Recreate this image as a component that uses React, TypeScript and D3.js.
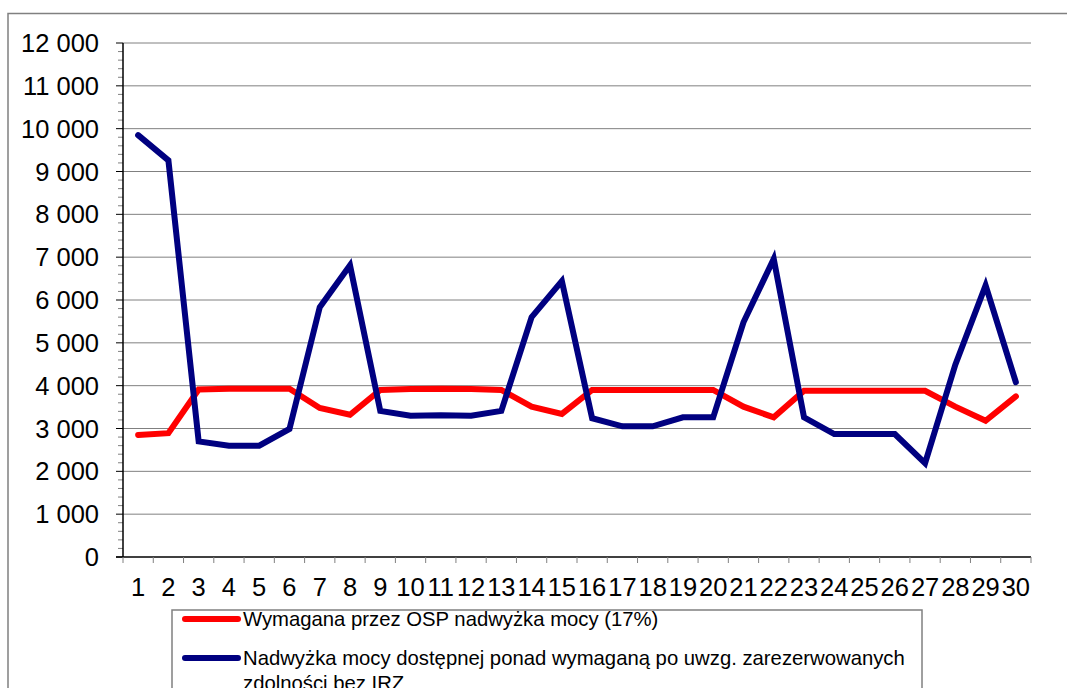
import React from "react";
import * as d3 from "d3";

const days = d3.range(1, 31).map(String);

const required = [
  2850, 2890, 3910, 3930, 3930, 3930, 3480, 3320, 3900, 3920,
  3930, 3920, 3900, 3510, 3340, 3900, 3900, 3900, 3900, 3900,
  3510, 3260, 3880, 3880, 3880, 3880, 3880, 3510, 3180, 3750,
];

const available = [
  9850, 9260, 2700, 2600, 2600, 2990, 5830, 6810, 3410, 3300,
  3310, 3300, 3410, 5600, 6440, 3240, 3050, 3050, 3260, 3260,
  5480, 6960, 3260, 2870, 2870, 2870, 2190, 4490, 6340, 4080,
];

const yTicks = d3.range(0, 12001, 1000);
const minorTicks = d3.range(0, 12001, 200).filter((v) => v % 1000 !== 0);

const seriesNames = [
  ["Wymagana przez OSP nadwyżka mocy (17%)"],
  ["Nadwyżka mocy dostępnej ponad wymaganą po uwzg. zarezerwowanych", "zdolności bez IRZ"],
];
const seriesColors = ["#ff0000", "#000080"];

const W = 1067;
const H = 688;
const left = 123;
const right = 1031;
const top = 43;
const bottom = 557;
const font = "'Liberation Sans', Arial, sans-serif";

const fmt = (v: number) => d3.format(",")(v).replace(/,/g, " ");

export default function App() {
  const x = d3.scaleBand().domain(days).range([left, right]);
  const y = d3.scaleLinear().domain([0, 12000]).range([bottom, top]);

  const line = d3
    .line<number>()
    .x((_, i) => x(days[i])! + x.bandwidth() / 2)
    .y((d) => y(d));

  const series = [required, available];

  return (
    <svg
      width={W}
      height={H}
      style={{ position: "absolute", left: 0, top: 0, background: "#fff" }}
      fontFamily={font}
    >
      <rect x={8} y={13.5} width={1080} height={700} fill="#fff" stroke="#808080" strokeWidth={1.5} />

      {yTicks.map((t) => (
        <g key={t}>
          {t > 0 && (
            <line x1={left} x2={right} y1={y(t)} y2={y(t)} stroke="#808080" strokeWidth={1} />
          )}
          <line x1={left - 7} x2={left} y1={y(t)} y2={y(t)} stroke="#000" strokeWidth={1} />
          <text x={99} y={y(t) + 9} textAnchor="end" fontSize={25.5} fill="#000">
            {fmt(t)}
          </text>
        </g>
      ))}
      {minorTicks.map((t) => (
        <line key={t} x1={left - 5} x2={left} y1={y(t)} y2={y(t)} stroke="#808080" strokeWidth={1} />
      ))}

      <line x1={left} x2={left} y1={top} y2={bottom} stroke="#000" strokeWidth={1.5} />
      <line x1={left - 7} x2={right} y1={bottom} y2={bottom} stroke="#000" strokeWidth={1.5} />

      {days.map((d) => (
        <line key={d} x1={x(d)!} x2={x(d)!} y1={bottom} y2={bottom + 6} stroke="#808080" strokeWidth={1} />
      ))}
      <line x1={right} x2={right} y1={bottom} y2={bottom + 6} stroke="#808080" strokeWidth={1} />
      {days.map((d) => (
        <text key={d} x={x(d)! + x.bandwidth() / 2} y={596} textAnchor="middle" fontSize={25.5} fill="#000">
          {d}
        </text>
      ))}

      {series.map((s, i) => (
        <path
          key={i}
          d={line(s)!}
          fill="none"
          stroke={seriesColors[i]}
          strokeWidth={6}
          strokeLinejoin="miter"
          strokeLinecap="round"
        />
      ))}

      <rect x={172} y={610} width={750} height={100} fill="#fff" stroke="#808080" strokeWidth={1.5} />
      {seriesNames.map((lines, i) => {
        const ly = 619 + i * 39;
        return (
          <g key={i}>
            <line x1={185} x2={238} y1={ly} y2={ly} stroke={seriesColors[i]} strokeWidth={6} strokeLinecap="round" />
            {lines.map((t, j) => (
              <text key={j} x={243} y={ly + 7 + j * 25} fontSize={20.3} fill="#000">
                {t}
              </text>
            ))}
          </g>
        );
      })}
    </svg>
  );
}
